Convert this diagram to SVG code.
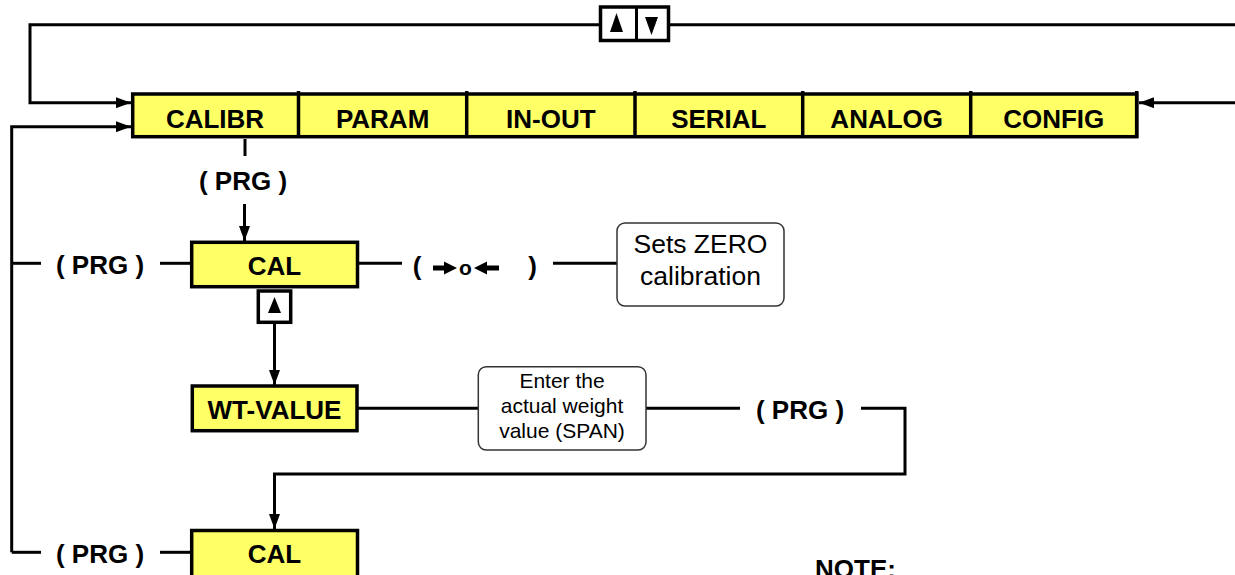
<svg xmlns="http://www.w3.org/2000/svg" width="1235" height="575" viewBox="0 0 1235 575">
<style>
.box{fill:#ffff66;stroke:#000;stroke-width:3.5}
.btn{fill:#fff;stroke:#000;stroke-width:3.5}
.note{fill:#fff;stroke:#333;stroke-width:1.5}
.ln{fill:none;stroke:#000;stroke-width:3}
.b{font-family:"Liberation Sans",Arial,sans-serif;font-weight:bold;font-size:26px;fill:#000;text-anchor:middle}
.r{font-family:"Liberation Sans",Arial,sans-serif;font-size:26.5px;fill:#000;text-anchor:middle}
.s{font-family:"Liberation Sans",Arial,sans-serif;font-size:21px;fill:#000;text-anchor:middle}
</style>
<defs>
<marker id="ah" markerWidth="15" markerHeight="11" refX="15" refY="5.5" orient="auto" markerUnits="userSpaceOnUse">
<path d="M0,0 L15,5.5 L0,11 Z" fill="#000"/>
</marker>
</defs>

<g id="connectors">
<path class="ln" d="M1235,24.7 H669"/>
<path class="ln" d="M600,24.7 H30 V102.7 H131" marker-end="url(#ah)"/>
<path class="ln" d="M1235,102.7 H1139" marker-end="url(#ah)"/>
<path class="ln" d="M11.7,552.3 V126.7 H131" marker-end="url(#ah)"/>
<path class="ln" d="M245,139 V156"/>
<path class="ln" d="M244.5,204 V241" marker-end="url(#ah)"/>
<path class="ln" d="M11.7,263.3 H41"/>
<path class="ln" d="M160,263.3 H191"/>
<path class="ln" d="M358,263.3 H402"/>
<path class="ln" d="M553,263.3 H617"/>
<path class="ln" d="M274.5,324 V385" marker-end="url(#ah)"/>
<path class="ln" d="M358,408.3 H478"/>
<path class="ln" d="M646,408.3 H740"/>
<path class="ln" d="M861,408.3 H905 V474 H274.5 V529" marker-end="url(#ah)"/>
<path class="ln" d="M11.7,552.3 H41"/>
<path class="ln" d="M160,552.3 H191"/>
</g>

<g id="updown-btn">
<rect class="btn" x="600.5" y="7" width="68" height="33.5"/>
<line class="ln" x1="636.5" y1="7" x2="636.5" y2="40.5" stroke-width="3.5"/>
<polygon points="616.5,13 610,32 623,32" fill="#000"/>
<polygon points="645,17 658,17 651.5,35" fill="#000"/>
</g>

<g id="menu">
<rect class="box" x="132.7" y="94" width="1004" height="42.7"/>
<g stroke="#000" stroke-width="3.5">
<line x1="298.5" y1="91" x2="298.5" y2="138"/>
<line x1="466.7" y1="91" x2="466.7" y2="138"/>
<line x1="635" y1="91" x2="635" y2="138"/>
<line x1="802.7" y1="91" x2="802.7" y2="138"/>
<line x1="970.7" y1="91" x2="970.7" y2="138"/>
<line x1="1136.7" y1="91" x2="1136.7" y2="138"/>
</g>
<g id="m-calibr"><text class="b" x="215" y="128.3">CALIBR</text></g>
<g id="m-param"><text class="b" x="382.6" y="128.3">PARAM</text></g>
<g id="m-inout"><text class="b" x="550.8" y="128.3">IN-OUT</text></g>
<g id="m-serial"><text class="b" x="718.8" y="128.3">SERIAL</text></g>
<g id="m-analog"><text class="b" x="886.7" y="128.3">ANALOG</text></g>
<g id="m-config"><text class="b" x="1053.7" y="128.3">CONFIG</text></g>
</g>

<g id="prg-top"><text class="b" x="243" y="190">( PRG )</text></g>
<g id="prg-left1"><text class="b" x="100" y="274">( PRG )</text></g>

<g id="cal1">
<rect class="box" x="191.7" y="242.3" width="165.8" height="44.4"/>
<text class="b" x="274.5" y="275">CAL</text>
</g>

<g id="up-btn">
<rect class="btn" x="258.3" y="291" width="32.4" height="31.3"/>
<polygon points="274.5,297 268,313 281,313" fill="#000"/>
</g>

<g id="zero-key">
<text class="b" x="417" y="275">(</text>
<text class="b" x="532.5" y="275">)</text>
<path d="M433,265.5 H444 V261.5 L457,268 L444,274.5 V270.5 H433 Z" fill="#000"/>
<text class="b" x="465.5" y="275" style="font-size:21px">o</text>
<path d="M499,265.5 H487 V261.5 L474,268 L487,274.5 V270.5 H499 Z" fill="#000"/>
</g>

<g id="zero-note">
<rect class="note" x="617" y="223" width="167" height="83" rx="8"/>
<text class="r" x="700.5" y="253">Sets ZERO</text>
<text class="r" x="700.5" y="285">calibration</text>
</g>

<g id="wt-value">
<rect class="box" x="192.3" y="386" width="164.7" height="44.7"/>
<text class="b" x="274.5" y="419">WT-VALUE</text>
</g>

<g id="span-note">
<rect class="note" x="478.3" y="366.7" width="167.7" height="83.3" rx="8"/>
<text class="s" x="562" y="388">Enter the</text>
<text class="s" x="562" y="413">actual weight</text>
<text class="s" x="562" y="437.5">value (SPAN)</text>
</g>

<g id="prg-right"><text class="b" x="800" y="419">( PRG )</text></g>

<g id="cal2">
<rect class="box" x="191.7" y="530.5" width="165.8" height="60"/>
<text class="b" x="274.5" y="563">CAL</text>
</g>

<g id="prg-left2"><text class="b" x="100" y="563">( PRG )</text></g>

<g id="note"><text class="b" x="815" y="578" style="text-anchor:start">NOTE:</text></g>
</svg>
